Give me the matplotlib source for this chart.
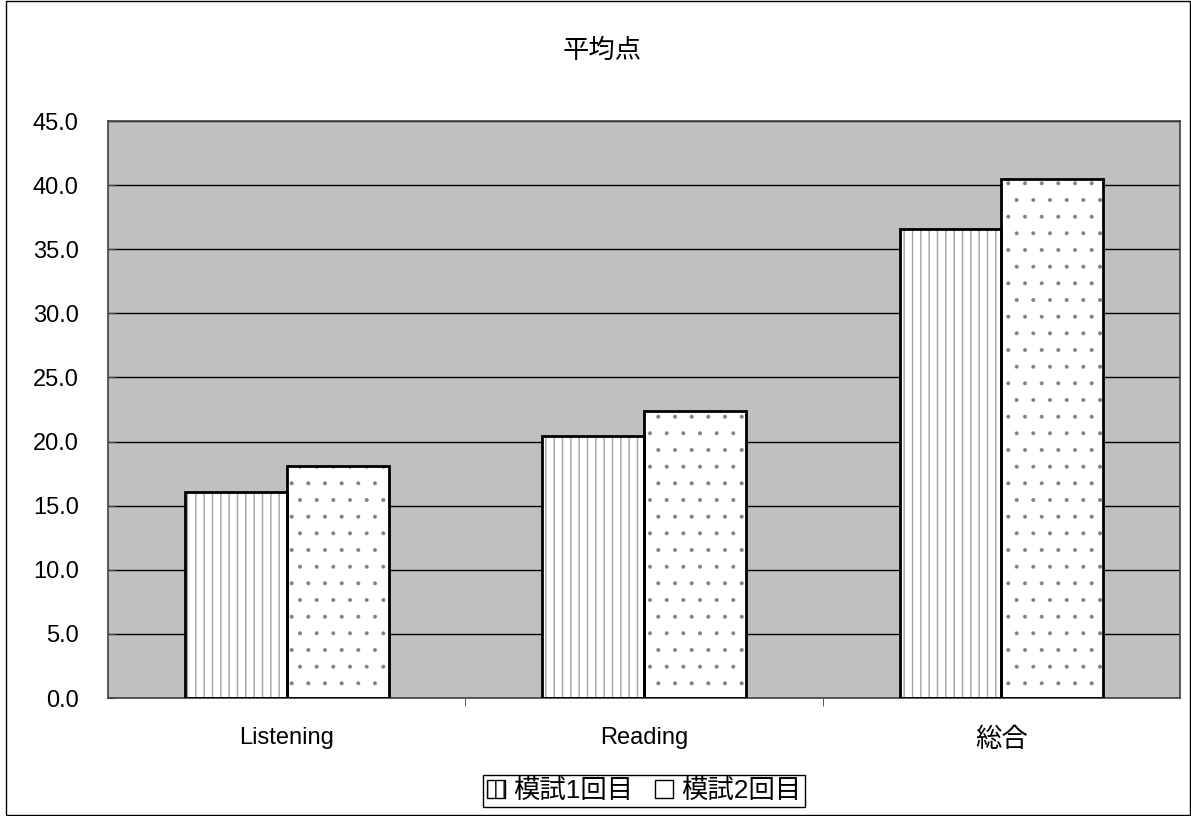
import matplotlib
matplotlib.use("Agg")
import matplotlib.pyplot as plt
import numpy as np
from matplotlib.patches import Patch, Rectangle

plt.rcParams['font.family'] = ['Liberation Sans', 'Noto Sans CJK JP']
plt.rcParams['hatch.linewidth'] = 1.0

categories = ["Listening", "Reading", "総合"]
series_names = ["模試1回目", "模試2回目"]
mock1 = [16.1, 20.4, 36.6]
mock2 = [18.1, 22.4, 40.5]
yticks = [0, 5, 10, 15, 20, 25, 30, 35, 40, 45]

fig = plt.figure(figsize=(11.91, 8.16), dpi=100)
ax = fig.add_axes([0.0907, 0.1446, 0.9001, 0.7071])
ax.set_facecolor("#c0c0c0")

x = np.arange(len(categories))
w = 0.285

# hatched fills
ax.bar(x - w / 2, mock1, w, color="white", edgecolor="#a0a0a0", hatch="||", linewidth=0, zorder=2)
with plt.rc_context({'hatch.linewidth': 0.4}):
    ax.bar(x + w / 2, mock2, w, color="white", edgecolor="#808080", hatch=".", linewidth=0, zorder=2)
# black outlines
ax.bar(x - w / 2, mock1, w, fill=False, edgecolor="black", linewidth=2, zorder=3)
ax.bar(x + w / 2, mock2, w, fill=False, edgecolor="black", linewidth=2, zorder=3)

ax.set_xlim(-0.5, 2.5)
ax.set_ylim(0, 45)
ax.set_yticks(yticks)
ax.set_yticklabels(["%.1f" % v for v in yticks], fontsize=17)
ax.set_xticks(x)
ax.set_xticklabels(categories, fontsize=17)
ax.get_xticklabels()[2].set_fontsize(19)
ax.set_xticks([0.5, 1.5], minor=True)
ax.tick_params(axis="x", which="major", length=0, pad=21)
ax.tick_params(axis="x", which="minor", length=6, direction="out", color="#404040")
ax.tick_params(axis="y", length=5, direction="in", pad=21, color="#404040")
ax.yaxis.grid(True, color="black", linewidth=1)
ax.set_axisbelow(True)
for s in ax.spines.values():
    s.set_color("#404040")
    s.set_linewidth(1.2)

fig.text(0.5055, 0.938, "平均点", ha="center", va="center", fontsize=19)

handles = [Patch(facecolor="white", edgecolor="black", hatch="||", linewidth=1),
           Patch(facecolor="white", edgecolor="black", linewidth=1)]
leg = ax.legend(handles, series_names, loc="upper center", bbox_to_anchor=(0.5, -0.1335),
                ncol=2, frameon=True, fontsize=19, fancybox=False, framealpha=1,
                handlelength=0.7, handleheight=0.7, handletextpad=0.3, columnspacing=0.8,
                borderpad=0.15, borderaxespad=0)
leg.get_frame().set_edgecolor("black")
leg.get_frame().set_linewidth(1)

fig.patches.append(Rectangle((6 / 1191, 0.001), 1 - 6 / 1191 - 0.001, 0.998, transform=fig.transFigure,
                             fill=False, edgecolor="black", linewidth=1))

fig.savefig("out.png", dpi=100)
